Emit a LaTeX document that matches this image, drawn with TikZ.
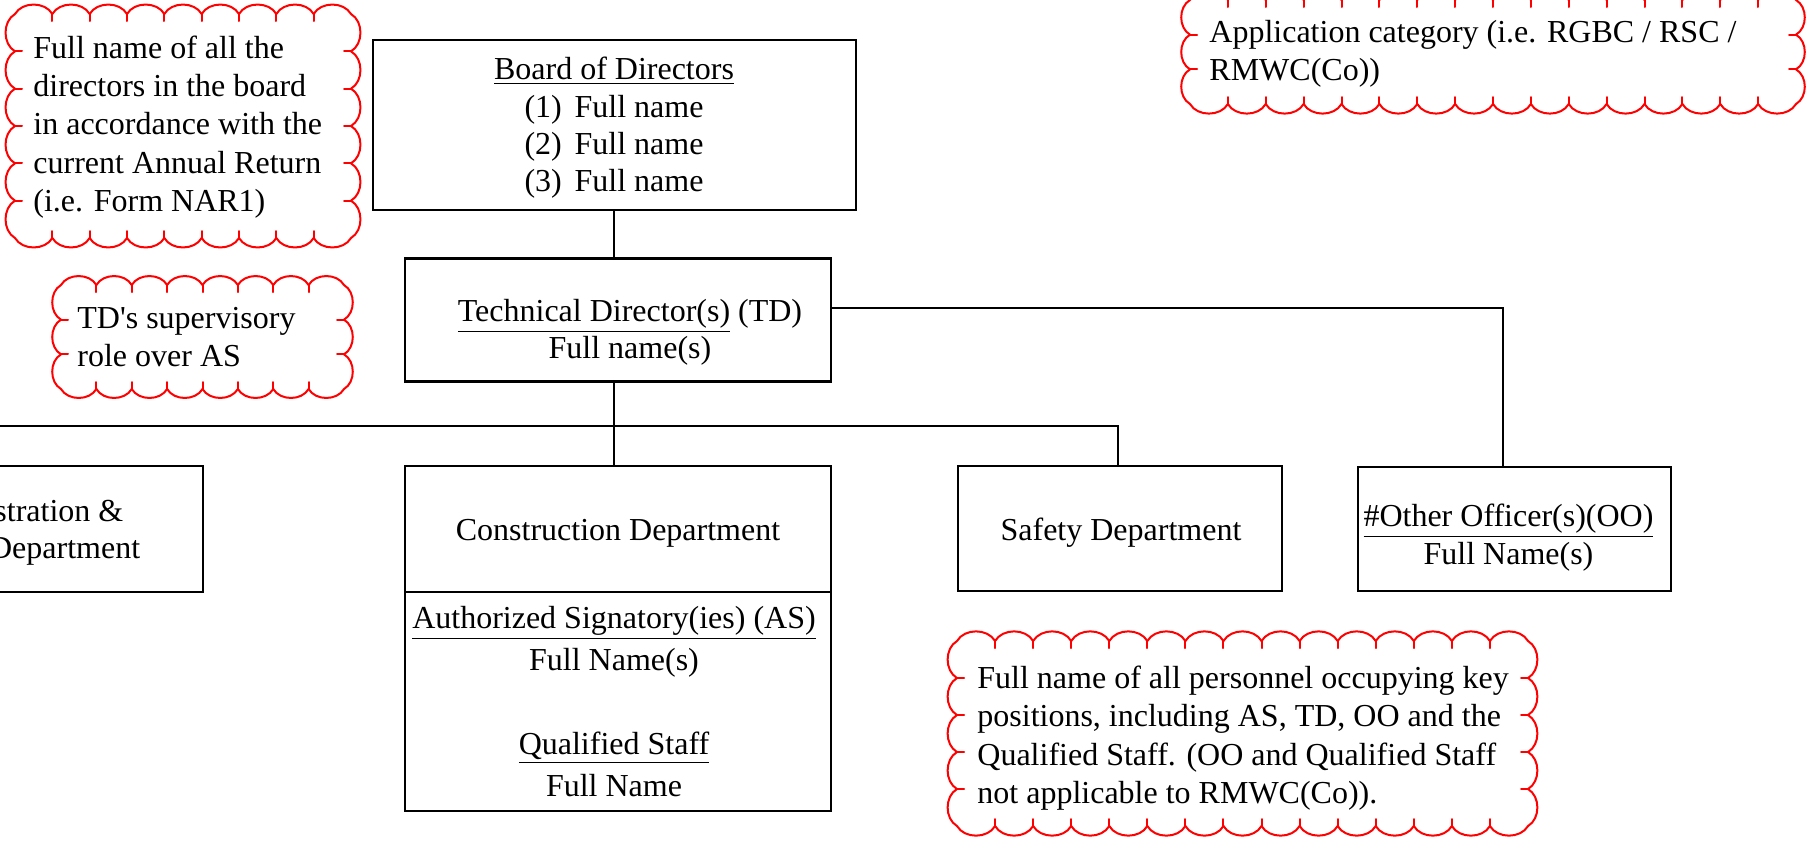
\documentclass[tikz,border=0pt]{standalone}
\usepackage{fontspec}
\setmainfont{Liberation Serif}
\newcommand\cloudrect[6]{%
  \pgfmathsetmacro\cdx{(#3-#1)/#5}%
  \pgfmathsetmacro\cdy{(#4-#2)/#6}%
  \pgfmathtruncatemacro\cnx{#5-1}%
  \pgfmathtruncatemacro\cny{#6-1}%
  \foreach \i in {1,...,#5}{%
    \draw[cloudline] ({#1+(\i-1)*\cdx},#2) to[bend left=60] ({#1+\i*\cdx},#2);
    \draw[cloudline] ({#3-(\i-1)*\cdx},#4) to[bend left=60] ({#3-\i*\cdx},#4);
  }%
  \foreach \i in {1,...,#6}{%
    \draw[cloudline] (#3,{#2+(\i-1)*\cdy}) to[bend left=60] (#3,{#2+\i*\cdy});
    \draw[cloudline] (#1,{#4-(\i-1)*\cdy}) to[bend left=60] (#1,{#4-\i*\cdy});
  }%
  \foreach \i in {1,...,\cnx}{%
    \draw[cloudline] ({#1+\i*\cdx},#2) -- ++(0,7);
    \draw[cloudline] ({#1+\i*\cdx},#4) -- ++(0,-7);
  }%
  \foreach \i in {1,...,\cny}{%
    \draw[cloudline] (#1,{#2+\i*\cdy}) -- ++(7,0);
    \draw[cloudline] (#3,{#2+\i*\cdy}) -- ++(-7,0);
  }%
}
\begin{document}
\begin{tikzpicture}[x=0.5pt,y=-0.5pt,
  box/.style={draw=black,line width=1.2pt,inner sep=0pt},
  txt/.style={align=center,inner sep=0pt,font=\fontsize{16pt}{18.65pt}\selectfont},
  ctxt/.style={align=left,anchor=west,inner sep=0pt,font=\fontsize{16pt}{19.15pt}\selectfont},
  conn/.style={line width=0.9pt},
  cloudline/.style={draw=red,line width=1pt,line cap=round}]
\fill[white] (0,0) rectangle (1809,842);
\useasboundingbox (0,0) rectangle (1809,842);

% boxes
\node[box,minimum width=241.5pt,minimum height=85pt] (board) at (614.5,125) {};
\node[box,minimum width=213pt,minimum height=61.5pt] (td) at (618,320) {};
\node[box,minimum width=193pt,minimum height=63pt] (admin) at (10,529) {};
\node[box,minimum width=213pt,minimum height=63pt] (constop) at (618,529) {};
\node[box,minimum width=213pt,minimum height=109.5pt] (consbot) at (618,701.5) {};
\node[box,minimum width=162pt,minimum height=62.5pt] (safety) at (1120,528.5) {};
\node[box,minimum width=156.5pt,minimum height=62pt] (oo) at (1514.5,529) {};

% texts
\node[txt] (boardt) at (614,128) {\underline{Board of Directors}\\(1)\hspace{0.4em}Full name\\(2)\hspace{0.4em}Full name\\(3)\hspace{0.4em}Full name};
\node[txt] (tdt) at (630,332.5) {\underline{Technical Director(s)} (TD)\\Full name(s)};
\node[txt] (admint) at (10,532) {Administration \&\\Finance Department};
\node[txt] (constopt) at (618,533) {Construction Department};
\node[txt,font=\fontsize{16pt}{21pt}\selectfont] (consbott) at (614,701.5) {\underline{Authorized Signatory(ies) (AS)}\\Full Name(s)\\\mbox{}\\\underline{Qualified Staff}\\Full Name};
\node[txt] (safetyt) at (1121,533) {Safety Department};
\node[txt] (oot) at (1508.5,537.5) {\underline{\#Other Officer(s)(OO)}\\Full Name(s)};

% connectors
\coordinate (bus) at (614,426);
\coordinate (busL) at (-60,426);
\coordinate (busR) at (1118,426);
\coordinate (ooc) at (1503,308);
\draw[conn] (board.south -| bus) -- (td.north -| bus);
\draw[conn] (td.south -| bus) -- (bus) -- (constop.north -| bus);
\draw[conn] (busL) -- (busR) -- (safety.north -| busR);
\draw[conn] (busL) -- (admin.north -| busL);
\draw[conn] (td.east |- ooc) -- (ooc) -- (oo.north -| ooc);

% clouds
\cloudrect{15}{14}{351}{238}{9}{6}
\node[ctxt] (c1) at (33,127) {Full name of all the\\directors in the board\\in accordance with the\\current Annual Return\\(i.e. Form NAR1)};
\cloudrect{61}{285}{344}{389}{8}{3}
\node[ctxt] (c2) at (77,337) {TD\textquotesingle s supervisory\\role over AS};
\cloudrect{1190}{0}{1796}{104}{16}{3}
\node[ctxt] (c3) at (1209,53.5) {Application category (i.e. RGBC / RSC /\\RMWC(Co))};
\cloudrect{957}{641}{1528}{826}{15}{5}
\node[ctxt] (c4) at (977,738) {Full name of all personnel occupying key\\positions, including AS, TD, OO and the\\Qualified Staff. (OO and Qualified Staff\\not applicable to RMWC(Co)).};
\end{tikzpicture}
\end{document}
